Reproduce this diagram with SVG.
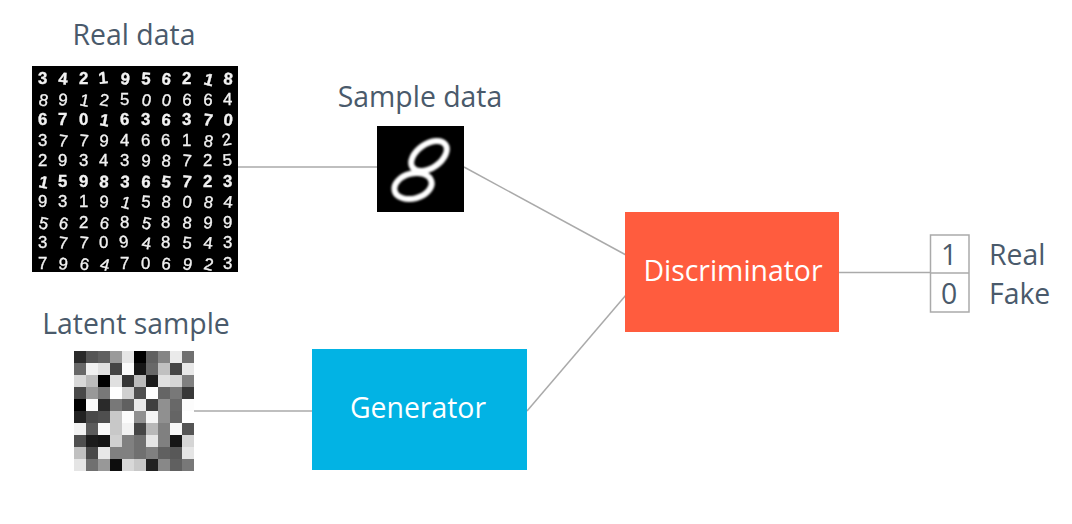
<svg xmlns="http://www.w3.org/2000/svg" width="1072" height="524" viewBox="0 0 1072 524">
<style>
.lb{font-family:"Open Sans","Noto Sans",sans-serif;font-size:28.4px;fill:#4a5a6b}
.m{text-anchor:middle}
.w{fill:#fff}
.cn{stroke:#aaa;stroke-width:1.5;fill:none}
.d{font-family:"Liberation Sans",Arial,sans-serif;font-size:16.8px;fill:#f2f2f2;stroke:#f2f2f2;stroke-width:.35;filter:url(#bl)}
.c rect{width:12.2px;height:12.2px;shape-rendering:crispEdges}
</style>
<defs>
<filter id="bl" x="-5%" y="-20%" width="110%" height="140%"><feGaussianBlur stdDeviation="0.45"/></filter>
<filter id="bl2" x="0" y="0" width="100%" height="100%"><feGaussianBlur stdDeviation="0.6"/></filter>
<filter id="bl3" x="-10%" y="-10%" width="120%" height="120%"><feGaussianBlur stdDeviation="1"/></filter>
</defs>
<g id="connectors">
<line class="cn" x1="238" y1="167" x2="378" y2="167"/>
<line class="cn" x1="464" y1="167" x2="626" y2="255"/>
<line class="cn" x1="527" y1="411" x2="626" y2="295"/>
<line class="cn" x1="194" y1="411" x2="313" y2="411"/>
<line class="cn" x1="839" y1="272.500" x2="930" y2="272.500"/>
</g>
<g id="real-data">
<text class="lb m" x="134" y="45">Real data</text>
<rect x="32" y="66" width="206" height="206" fill="#000"/>
<g class="d">
<text x="38 58 79 99 120 141 161 182 203 223" y="84" rotate="0 4 0 -6 6 4 8 0 15 6" font-weight="700">3421956218</text>
<text x="38 58 79 99 120 141 161 182 203 223" y="105" rotate="10 4 12 8 0 10 10 4 4 0">8912500664</text>
<text x="38 58 79 99 120 141 161 182 203 223" y="125" rotate="0 0 0 10 0 0 6 0 6 6" font-weight="700">6701636370</text>
<text x="38 58 79 99 120 141 161 182 203 223" y="146" rotate="0 6 4 4 0 0 0 0 10 -10">3779466182</text>
<text x="38 58 79 99 120 141 161 182 203 223" y="166" rotate="0 0 0 0 0 4 6 4 0 -4">2934398725</text>
<text x="38 58 79 99 120 141 161 182 203 223" y="187" rotate="12 0 0 4 4 4 6 4 0 0" font-weight="700">1598365723</text>
<text x="38 58 79 99 120 141 161 182 203 223" y="207" rotate="0 0 0 4 15 4 6 6 10 6">9319158084</text>
<text x="38 58 79 99 120 141 161 182 203 223" y="228" rotate="12 12 0 10 0 12 0 6 4 0">5626858899</text>
<text x="38 58 79 99 120 141 161 182 203 223" y="248" rotate="0 6 4 0 -8 10 0 6 6 0">3770948543</text>
<text x="38 58 79 99 120 141 161 182 203 223" y="269" rotate="0 6 10 15 0 0 6 10 12 0">7964706923</text>
</g>
</g>
<g id="sample-data">
<text class="lb m" x="420" y="107">Sample data</text>
<rect x="377" y="126" width="87" height="86" fill="#000"/>
<g fill="none" stroke="#fff" stroke-width="6" filter="url(#bl3)">
<ellipse cx="429" cy="156" rx="20" ry="12" transform="rotate(-35 429 156)"/>
<ellipse cx="413" cy="186" rx="19" ry="12.500" transform="rotate(-15 413 186)"/>
</g>
</g>
<g id="latent-sample">
<text class="lb m" x="136" y="334">Latent sample</text>
<g class="c" filter="url(#bl2)">
<rect x="74" y="351" fill="#2a2a2a"/><rect x="86" y="351" fill="#555"/><rect x="98" y="351" fill="#606060"/><rect x="110" y="351" fill="#9a9a9a"/><rect x="122" y="351" fill="#e5e5e5"/><rect x="134" y="351" fill="#000"/><rect x="146" y="351" fill="#606060"/><rect x="158" y="351" fill="#858585"/><rect x="170" y="351" fill="#eaeaea"/><rect x="182" y="351" fill="#707070"/>
<rect x="74" y="363" fill="#686868"/><rect x="86" y="363" fill="#f0f0f0"/><rect x="98" y="363" fill="#e0e0e0"/><rect x="110" y="363" fill="#454545"/><rect x="122" y="363" fill="#fafafa"/><rect x="134" y="363" fill="#181818"/><rect x="146" y="363" fill="#686868"/><rect x="158" y="363" fill="#c0c0c0"/><rect x="170" y="363" fill="#454545"/><rect x="182" y="363" fill="#e8e8e8"/>
<rect x="74" y="375" fill="#d8d8d8"/><rect x="86" y="375" fill="#bbb"/><rect x="98" y="375" fill="#050505"/><rect x="110" y="375" fill="#e0e0e0"/><rect x="122" y="375" fill="#353535"/><rect x="134" y="375" fill="#bbb"/><rect x="146" y="375" fill="#1a1a1a"/><rect x="158" y="375" fill="#e0e0e0"/><rect x="170" y="375" fill="#d5d5d5"/><rect x="182" y="375" fill="#808080"/>
<rect x="74" y="387" fill="#484848"/><rect x="86" y="387" fill="#989898"/><rect x="98" y="387" fill="#787878"/><rect x="110" y="387" fill="#fff"/><rect x="122" y="387" fill="#d0d0d0"/><rect x="134" y="387" fill="#505050"/><rect x="146" y="387" fill="#fff"/><rect x="158" y="387" fill="#656565"/><rect x="170" y="387" fill="#787878"/><rect x="182" y="387" fill="#383838"/>
<rect x="74" y="399" fill="#000"/><rect x="86" y="399" fill="#fafafa"/><rect x="98" y="399" fill="#2a2a2a"/><rect x="110" y="399" fill="#787878"/><rect x="122" y="399" fill="#606060"/><rect x="134" y="399" fill="#eaeaea"/><rect x="146" y="399" fill="#404040"/><rect x="158" y="399" fill="#909090"/><rect x="170" y="399" fill="#686868"/><rect x="182" y="399" fill="#fcfcfc"/>
<rect x="74" y="411" fill="#202020"/><rect x="86" y="411" fill="#484848"/><rect x="98" y="411" fill="#505050"/><rect x="110" y="411" fill="#c8c8c8"/><rect x="122" y="411" fill="#fcfcfc"/><rect x="134" y="411" fill="#909090"/><rect x="146" y="411" fill="#f5f5f5"/><rect x="158" y="411" fill="#909090"/><rect x="170" y="411" fill="#656565"/><rect x="182" y="411" fill="#fff"/>
<rect x="74" y="423" fill="#f2f2f2"/><rect x="86" y="423" fill="#5c5c5c"/><rect x="98" y="423" fill="#fafafa"/><rect x="110" y="423" fill="#c8c8c8"/><rect x="122" y="423" fill="#f2f2f2"/><rect x="134" y="423" fill="#454545"/><rect x="146" y="423" fill="#b8b8b8"/><rect x="158" y="423" fill="#808080"/><rect x="170" y="423" fill="#f8f8f8"/><rect x="182" y="423" fill="#555"/>
<rect x="74" y="435" fill="#505050"/><rect x="86" y="435" fill="#1c1c1c"/><rect x="98" y="435" fill="#181818"/><rect x="110" y="435" fill="#d0d0d0"/><rect x="122" y="435" fill="#808080"/><rect x="134" y="435" fill="#707070"/><rect x="146" y="435" fill="#e5e5e5"/><rect x="158" y="435" fill="#808080"/><rect x="170" y="435" fill="#181818"/><rect x="182" y="435" fill="#d5d5d5"/>
<rect x="74" y="447" fill="#c0c0c0"/><rect x="86" y="447" fill="#484848"/><rect x="98" y="447" fill="#e8e8e8"/><rect x="110" y="447" fill="#808080"/><rect x="122" y="447" fill="#808080"/><rect x="134" y="447" fill="#707070"/><rect x="146" y="447" fill="#808080"/><rect x="158" y="447" fill="#606060"/><rect x="170" y="447" fill="#585858"/><rect x="182" y="447" fill="#e5e5e5"/>
<rect x="74" y="459" fill="#e5e5e5"/><rect x="86" y="459" fill="#707070"/><rect x="98" y="459" fill="#989898"/><rect x="110" y="459" fill="#080808"/><rect x="122" y="459" fill="#d8d8d8"/><rect x="134" y="459" fill="#c8c8c8"/><rect x="146" y="459" fill="#202020"/><rect x="158" y="459" fill="#888"/><rect x="170" y="459" fill="#606060"/><rect x="182" y="459" fill="#787878"/>
</g>
</g>
<g id="generator">
<rect x="312" y="349" width="215" height="121" fill="#02b3e4"/>
<text class="lb m w" x="418" y="418">Generator</text>
</g>
<g id="discriminator">
<rect x="625" y="212" width="214" height="120" fill="#ff5c3e"/>
<text class="lb m w" x="733" y="281">Discriminator</text>
</g>
<g id="output">
<rect x="930.500" y="235" width="38.500" height="77" fill="none" stroke="#aaa" stroke-width="1.500"/>
<line class="cn" x1="930" y1="273" x2="969" y2="273"/>
<text class="lb m" x="949" y="265">1</text>
<text class="lb m" x="949" y="304">0</text>
<text class="lb" x="989" y="265">Real</text>
<text class="lb" x="989" y="304">Fake</text>
</g>
</svg>
